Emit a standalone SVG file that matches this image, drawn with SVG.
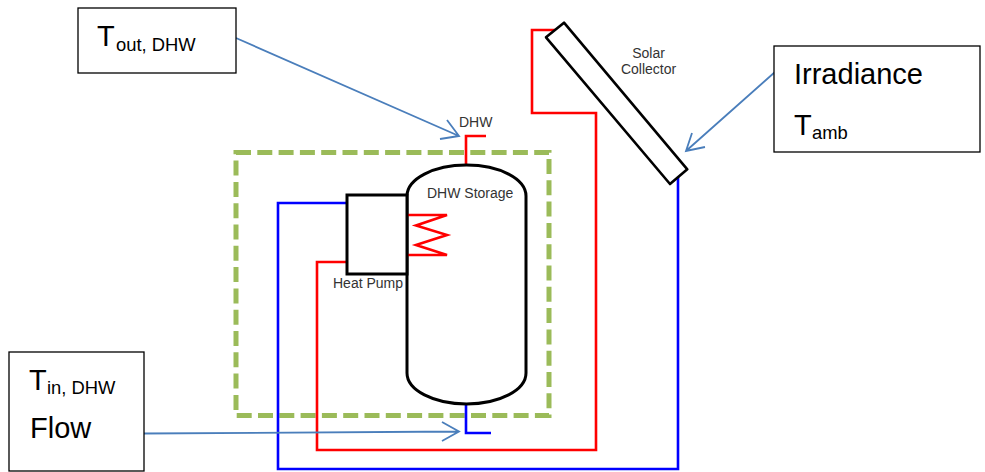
<svg xmlns="http://www.w3.org/2000/svg" width="985" height="472" viewBox="0 0 985 472">
<style>
text{font-family:"Liberation Sans",Arial,sans-serif}
.box{fill:#fff;stroke:#000;stroke-width:1.3}
.blk{fill:#fff;stroke:#000;stroke-width:3}
.red{fill:none;stroke:#f00;stroke-width:2.6}
.blue{fill:none;stroke:#00f;stroke-width:2.6}
.sig{fill:none;stroke:#4a7ebb;stroke-width:1.8}
.lab{font-size:14px;fill:#333}
.big{font-size:29px;fill:#000}
.sub{font-size:18.4px;fill:#000}
</style>
<g id="boundary"><rect x="236" y="152.500" width="313" height="263" fill="none" stroke="#9bbb59" stroke-width="5" stroke-dasharray="15 6.300"/></g>
<g id="connectors">
<path class="red" d="M555 30H532V113H596V450H317V262H347"/>
<path class="blue" d="M678 176V469H278V203H347"/>
<path class="red" d="M466 166V136H486"/>
<path class="blue" d="M466 403V433H491"/>
<path class="sig" d="M236 38L459 136M447 120L459 136L440 139"/>
<path class="sig" d="M144 433.500L459 431.500M442 422L459 431.500L442 441"/>
<path class="sig" d="M775 72L686 151M692 133L686 151L705 147"/>
</g>
<g id="storage">
<path class="blk" d="M407 196A59.500 31 0 0 1 526 196V373A59.500 31 0 0 1 407 373Z"/>
<path class="red" d="M407 215H447L416 225.500L447 235L416 245L447 255H407"/>
<text class="lab" x="427" y="198">DHW Storage</text>
</g>
<g id="heatpump">
<rect class="blk" x="347" y="195" width="60" height="79"/>
<text class="lab" x="333" y="288">Heat Pump</text>
</g>
<g id="dhw"><text class="lab" x="459" y="127">DHW</text></g>
<g id="collector">
<path d="M564 22.700L546 37.300L670 184L687.300 169.300Z" fill="#fff" stroke="#000" stroke-width="2.600" stroke-linejoin="round"/>
<text class="lab" x="648.500" y="58" text-anchor="middle">Solar</text>
<text class="lab" x="648.500" y="74" text-anchor="middle">Collector</text>
</g>
<g id="tout">
<rect class="box" x="78" y="8" width="158" height="65"/>
<text class="big" x="97" y="46">T</text><text class="sub" x="116" y="51">out, DHW</text>
</g>
<g id="tin">
<rect class="box" x="9" y="352" width="135" height="119"/>
<text class="big" x="29" y="390">T</text><text class="sub" x="47" y="394">in, DHW</text>
<text class="big" x="30" y="438">Flow</text>
</g>
<g id="irradiance">
<rect class="box" x="774" y="46" width="206" height="106"/>
<text class="big" x="794" y="84">Irradiance</text>
<text class="big" x="794" y="135">T</text><text class="sub" x="812" y="139">amb</text>
</g>
</svg>
